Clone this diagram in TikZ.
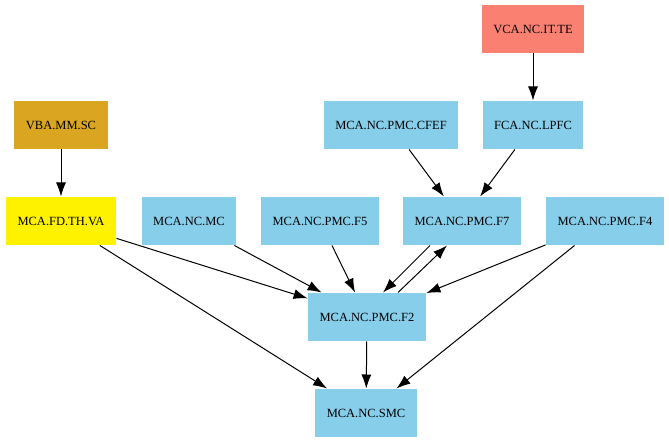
\documentclass[tikz,border=0pt]{standalone}
\usepackage{fontspec}
\setmainfont{Liberation Serif}
\usetikzlibrary{arrows.meta}
\definecolor{skyblue}{HTML}{87CEEB}
\definecolor{salmon}{HTML}{FA8072}
\definecolor{goldenrod}{HTML}{DAA520}
\begin{document}
\begin{tikzpicture}[x=1pt,y=-1pt,
    box/.style={rectangle,fill=skyblue,minimum height=48pt,inner xsep=11.5pt,
      font=\fontsize{12.5}{15}\selectfont},
    >={Latex[length=14pt,width=10pt]},line width=1pt]
  \useasboundingbox (0,0) rectangle (669,443);
  \node[box,fill=salmon] (vca) at (533,29) {VCA.NC.IT.TE};
  \node[box,fill=goldenrod] (vba) at (61,125) {VBA.MM.SC};
  \node[box] (cfef) at (391,125) {MCA.NC.PMC.CFEF};
  \node[box] (fca) at (533,125) {FCA.NC.LPFC};
  \node[box,fill=yellow] (va) at (61,221) {MCA.FD.TH.VA};
  \node[box] (mc) at (189,221) {MCA.NC.MC};
  \node[box] (f5) at (320,221) {MCA.NC.PMC.F5};
  \node[box] (f7) at (462,221) {MCA.NC.PMC.F7};
  \node[box] (f4) at (605,221) {MCA.NC.PMC.F4};
  \node[box] (f2) at (367,317) {MCA.NC.PMC.F2};
  \node[box] (smc) at (366,413) {MCA.NC.SMC};
  \begin{scope}[->]
    \draw (vca) to (fca);
    \draw (vba) to (va);
    \draw (cfef) to (f7);
    \draw (fca) to (f7);
    \draw (va) to (f2);
    \draw (va) to (smc);
    \draw (mc) to (f2);
    \draw (f5) to (f2);
    \draw ([xshift=-32pt]f7.south) to ([xshift=16pt]f2.north);
    \draw ([xshift=31pt]f2.north) to ([xshift=-15pt]f7.south);
    \draw (f4) to (f2);
    \draw (f4) to (smc);
    \draw (f2) to (smc);
  \end{scope}
\end{tikzpicture}
\end{document}
